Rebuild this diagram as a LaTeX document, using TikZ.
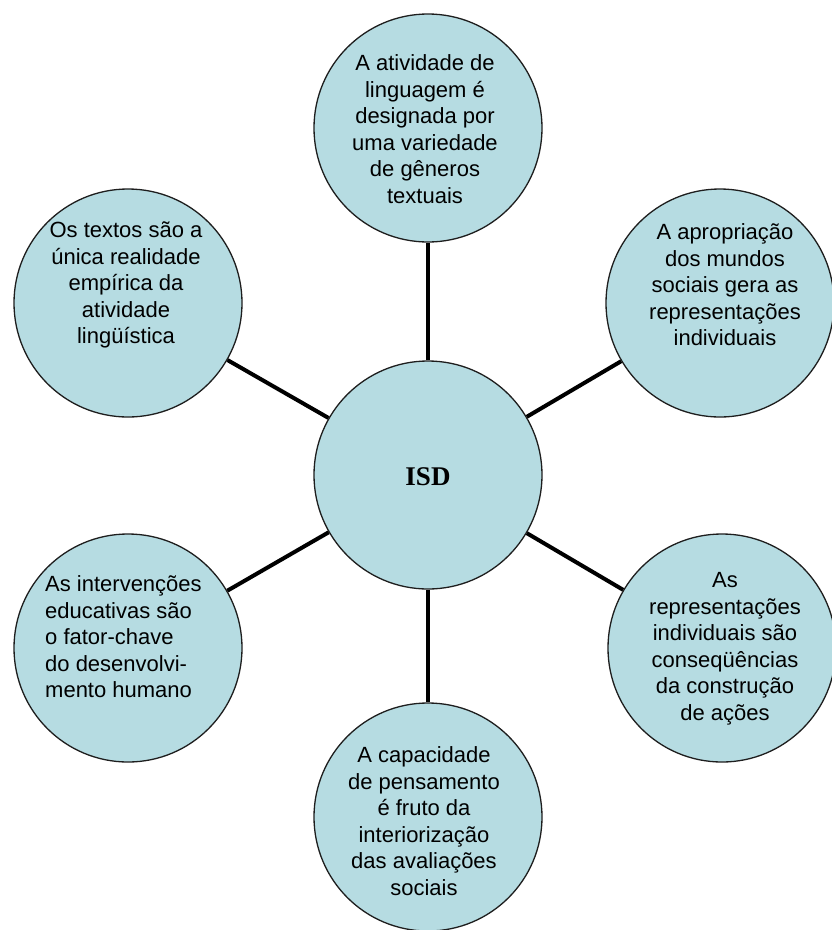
\documentclass[tikz,border=0pt]{standalone}
\usepackage{fontspec}
\setmainfont{Liberation Sans}
\newfontfamily\isdfont{Liberation Serif}
\definecolor{bubblefill}{RGB}{182,220,226}
\definecolor{bubbleline}{RGB}{30,30,30}
\begin{document}
\begin{tikzpicture}[x=1pt,y=-1pt,
  bubble/.style={circle, draw=bubbleline, line width=1.3pt, fill=bubblefill, minimum size=228pt, inner sep=0pt},
  txt/.style={align=center, inner sep=0pt, font=\fontsize{22}{26.5}\selectfont},
  conn/.style={line width=4pt, black}]
\useasboundingbox[fill=white] (0,0) rectangle (831,930);
% circles
\node[bubble] (c0) at (428,475) {};
\node[bubble] (c1) at (428,128) {};
\node[bubble] (c2) at (720,303) {};
\node[bubble] (c3) at (722,648) {};
\node[bubble] (c4) at (428,817) {};
\node[bubble] (c5) at (128,648) {};
\node[bubble] (c6) at (128,303) {};
% connectors
\draw[conn] (c0) -- (c1);
\draw[conn] (c0) -- (c2);
\draw[conn] (c0) -- (c3);
\draw[conn] (c0) -- (c4);
\draw[conn] (c0) -- (c5);
\draw[conn] (c0) -- (c6);
% texts
\node[font=\isdfont\bfseries\fontsize{27}{30}\selectfont, inner sep=0pt] (t0) at (428,477) {ISD};
\node[txt] (t1) at (425,129) {A atividade de\\linguagem é\\designada por\\uma variedade\\de gêneros\\textuais};
\node[txt] (t2) at (725,285) {A apropriação\\dos mundos\\sociais gera as\\representações\\individuais};
\node[txt] (t3) at (725,649) {As\\representações\\individuais são\\conseqüências\\da construção\\de ações};
\node[txt] (t4) at (424,821) {A capacidade\\de pensamento\\é fruto da\\interiorização\\das avaliações\\sociais};
\node[txt, align=left, anchor=west] (t5) at (45,637) {As intervenções\\educativas são\\o fator-chave\\do desenvolvi-\\mento humano};
\node[txt] (t6) at (126,285) {Os textos são a\\única realidade\\empírica da\\atividade\\lingüística};
\end{tikzpicture}
\end{document}
